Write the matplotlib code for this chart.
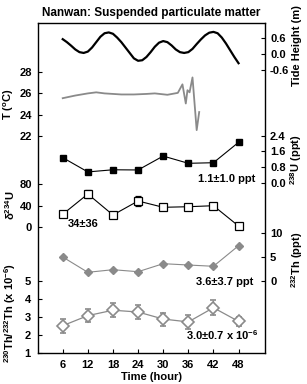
import matplotlib
matplotlib.use("Agg")
import matplotlib.pyplot as plt
import numpy as np

plt.rcParams['font.family'] = ['Liberation Sans', 'DejaVu Sans']
plt.rcParams['font.weight'] = 'bold'
plt.rcParams['axes.labelweight'] = 'bold'
plt.rcParams['font.size'] = 8
plt.rcParams['mathtext.fontset'] = 'custom'
plt.rcParams['mathtext.bf'] = 'Liberation Sans:bold'
plt.rcParams['mathtext.rm'] = 'Liberation Sans:bold'
plt.rcParams['mathtext.default'] = 'bf'

# --- data -------------------------------------------------------------
time = [6, 12, 18, 24, 30, 36, 42, 48]

tide_t = [6, 7, 8, 9, 10, 11, 12, 13, 14, 15, 16, 17, 18, 19, 20, 21, 22,
          23, 24, 25, 26, 27, 28, 29, 30, 31, 32, 33, 34, 35, 36, 37, 38,
          39, 40, 41, 42, 43, 44, 45, 46, 47, 48]
tide_h = [0.56, 0.45, 0.32, 0.18, 0.08, 0.05, 0.10, 0.25, 0.45, 0.65, 0.78,
          0.81, 0.76, 0.62, 0.45, 0.25, 0.05, -0.15, -0.24, -0.22, -0.10,
          0.08, 0.28, 0.43, 0.49, 0.45, 0.33, 0.18, 0.08, 0.05, 0.08, 0.20,
          0.38, 0.55, 0.70, 0.80, 0.83, 0.78, 0.62, 0.40, 0.15, -0.10, -0.33]

temp_t = [6, 9, 12, 14, 16, 18, 20, 23, 26, 28, 31, 33.5, 34.6, 35.4, 35.8,
          36.3, 37.0, 38.0, 38.6]
temp_c = [25.55, 25.8, 26.0, 26.1, 26.0, 25.95, 25.9, 25.9, 25.95, 26.0,
          25.87, 26.05, 26.85, 25.05, 26.3, 26.1, 27.5, 22.55, 24.25]

u238 = [1.28, 0.55, 0.66, 0.65, 1.36, 0.99, 1.02, 2.06]
d234u = [23.4, 61.7, 22.1, 48.5, 36.6, 37.7, 39.6, 1.3]
d234u_err = [3, 7, 3, 10, 3, 3, 3, 3]
th232 = [5.0, 1.77, 2.32, 1.9, 3.59, 3.31, 3.04, 7.38]
th_ratio = [2.5, 3.06, 3.36, 3.26, 2.87, 2.71, 3.5, 2.74]
th_ratio_err = [0.38, 0.36, 0.38, 0.38, 0.36, 0.38, 0.42, 0.24]

# --- layout -------------------------------------------------------------
W, H = 307, 384
left_px, right_px, top_px, bot_px = 37.6, 264.5, 23, 352.7
rect = [left_px / W, 1 - bot_px / H, (right_px - left_px) / W,
        (bot_px - top_px) / H]


def ylim_for(ref_px, ref_val, units_per_px):
    """y-limits so that ref_val sits at pixel row ref_px"""
    top = ref_val + (ref_px - top_px) * units_per_px
    bottom = ref_val - (bot_px - ref_px) * units_per_px
    return bottom, top


fig = plt.figure(figsize=(W / 100, H / 100), dpi=100)
ax = fig.add_axes(rect)
ax.set_xlim(0, 54.2)
ax.set_xticks(time)
ax.set_xlabel('Time (hour)', fontsize=8, fontweight='bold', labelpad=2)
ax.tick_params(direction='in', length=3, width=0.8, labelsize=8, pad=5)
for s in ax.spines.values():
    s.set_linewidth(1.0)


def overlay(side):
    a = fig.add_axes(rect, sharex=ax)
    a.patch.set_visible(False)
    for s in a.spines.values():
        s.set_visible(False)
    a.tick_params(axis='x', bottom=False, labelbottom=False)
    if side == 'right':
        a.yaxis.tick_right()
    a.tick_params(axis='y', direction='in', length=3, width=0.8,
                  labelsize=8, pad=4)
    return a


grey = '#8a8a8a'

# 230Th/232Th (main axis, left)
ax.set_ylim(*ylim_for(352.7, 1, 1 / 18.0))
ax.set_yticks([1, 2, 3, 4, 5])
ax.errorbar(time, th_ratio, yerr=th_ratio_err, color=grey, marker='D',
            mfc='white', mec=grey, ms=6.5, mew=1.2, lw=0.9, capsize=2,
            elinewidth=0.9)
ax.text(52.7, 1.98, '3.0\u00b10.7 x 10$^{-6}$', ha='right', va='center',
        fontsize=8)

# tide (right)
a_tide = overlay('right')
a_tide.set_ylim(*ylim_for(54.3, 0.0, 0.6 / 16.2))
a_tide.set_yticks([-0.6, 0.0, 0.6])
a_tide.set_yticklabels(['-0.6', '0.0', '0.6'])
a_tide.plot(tide_t, tide_h, color='black', lw=1.6)

# temperature (left)
a_temp = overlay('left')
a_temp.set_ylim(*ylim_for(136, 22, 2 / 21.3))
a_temp.set_yticks([22, 24, 26, 28])
a_temp.plot(temp_t, temp_c, color=grey, lw=1.3)

# 238U (right)
a_u = overlay('right')
a_u.set_ylim(*ylim_for(182.7, 0.0, 0.8 / 15.67))
a_u.set_yticks([0.0, 0.8, 1.6, 2.4])
a_u.set_yticklabels(['0.0', '0.8', '1.6', '2.4'])
a_u.plot(time, u238, color='black', marker='s', ms=4.5, lw=0.8)
a_u.text(52.0, 0.19, '1.1\u00b11.0 ppt', ha='right', va='center',
         fontsize=8)

# d234U (left)
a_d = overlay('left')
a_d.set_ylim(*ylim_for(226.7, 0, 40 / 21.2))
a_d.set_yticks([0, 40, 80])
a_d.errorbar(time, d234u, yerr=d234u_err, color='black', marker='s',
             mfc='white', mec='black', ms=5.5, mew=0.9, lw=0.8, capsize=2,
             elinewidth=0.8)
a_d.text(7.3, 5.1, '34\u00b136', ha='left', va='center', fontsize=8)

# 232Th (right)
a_th = overlay('right')
a_th.set_ylim(*ylim_for(280.7, 0, 5 / 23.7))
a_th.set_yticks([0, 5, 10])
a_th.plot(time, th232, color=grey, marker='D', ms=3.8, lw=0.8)
a_th.text(51.5, -0.2, '3.6\u00b13.7 ppt', ha='right', va='center',
          fontsize=8)

# axis titles
fig.text(151 / W, 1 - 13 / H, 'Nanwan: Suspended particulate matter',
         ha='center', va='center', fontsize=8.5)
fig.text(9 / W, 1 - 104 / H, 'T ($^{o}$C)', rotation=90, ha='center',
         va='center', fontsize=8)
fig.text(10 / W, 1 - 205 / H, r'$\delta^{234}$U', rotation=90,
         ha='center', va='center', fontsize=8)
fig.text(10 / W, 1 - 313 / H, r'$^{230}$Th/$^{232}$Th (x 10$^{-6}$)',
         rotation=90, ha='center', va='center', fontsize=8)
fig.text(297 / W, 1 - 46 / H, 'Tide Height (m)', rotation=90,
         ha='center', va='center', fontsize=8)
fig.text(296 / W, 1 - 160 / H, r'$^{238}$U (ppt)', rotation=90,
         ha='center', va='center', fontsize=8)
fig.text(297 / W, 1 - 260 / H, r'$^{232}$Th (ppt)', rotation=90,
         ha='center', va='center', fontsize=8)

fig.savefig('out.png', dpi=100, facecolor='white')
